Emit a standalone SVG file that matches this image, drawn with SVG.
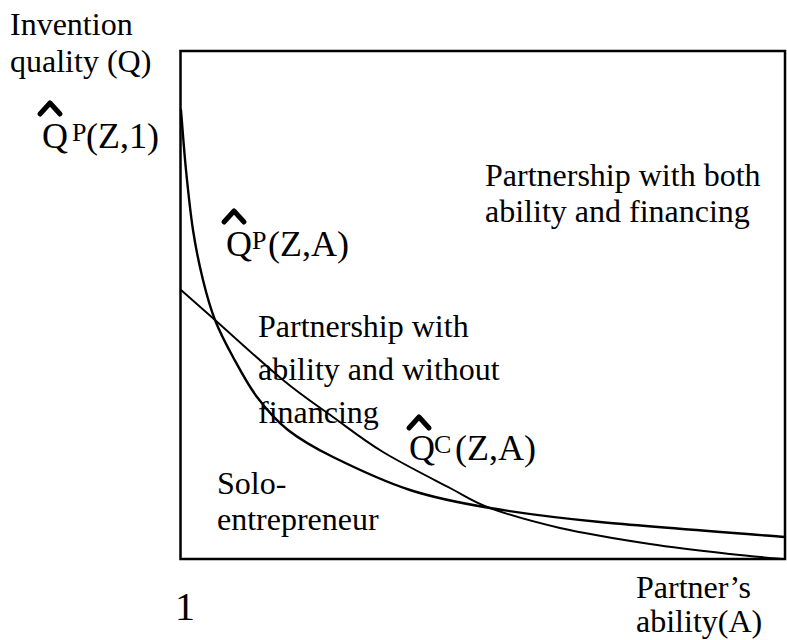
<svg xmlns="http://www.w3.org/2000/svg" width="787" height="640" viewBox="0 0 787 640">
<style>
text{font-family:"Liberation Serif","Times New Roman",serif;fill:#000;font-size:32px}
.lbl{font-size:36px}
.sup{font-size:26px}
.one{font-size:40px}
.hat{fill:none;stroke:#000;stroke-width:5;stroke-linecap:round;stroke-linejoin:round}
.curve{fill:none;stroke:#000;stroke-linecap:round}
</style>
<rect width="787" height="640" fill="#fff"/>
<g id="frame">
<rect x="180.5" y="51" width="604.5" height="508" fill="none" stroke="#000" stroke-width="2.5"/>
</g>
<g id="curves">
<path id="curve-qp" class="curve" stroke-width="2.4" d="M181,110 C181.8,120 184,150 186,170 C188,190 190.2,211.7 193,230 C195.8,248.3 199.3,265 203,280 C206.7,295 210,307.2 215,320 C220,332.8 226,344.2 233,357 C240,369.8 247.8,384.8 257,397 C266.2,409.2 275.3,420 288,430 C300.7,440 312.7,447 333,457 C353.3,467 383.8,481.5 410,490 C436.2,498.5 458.3,502.7 490,508 C521.7,513.3 550.8,517.2 600,522 C649.2,526.8 754.2,534.5 785,537"/>
<path id="curve-qc" class="curve" stroke-width="1.9" d="M181,290 C186.7,295 198,305 215,320 C232,335 263.3,363.8 283,380 C302.7,396.2 316.3,405 333,417 C349.7,429 363.5,440.2 383,452 C402.5,463.8 432.2,478.7 450,488 C467.8,497.3 471.7,501.3 490,508 C508.3,514.7 533.3,521.8 560,528 C586.7,534 621.7,539.7 650,544 C678.3,548.3 707.5,551.5 730,554 C752.5,556.5 775.8,558.2 785,559"/>
</g>
<g id="axis-y-title">
<text x="10" y="35">Invention</text>
<text x="10" y="72">quality (Q)</text>
</g>
<g id="label-qp-z1">
<polyline class="hat" points="40,114 50,103 60,114"/>
<text class="lbl" x="42" y="148">Q</text>
<text class="sup" x="72" y="141">P</text>
<text class="lbl" x="86" y="148">(Z,1)</text>
</g>
<g id="label-qp-za">
<polyline class="hat" points="224,222 234,211 244,222"/>
<text class="lbl" x="226" y="256">Q</text>
<text class="sup" x="252" y="249">P</text>
<text class="lbl" x="268" y="256">(Z,A)</text>
</g>
<g id="label-qc-za">
<polyline class="hat" points="409,428 419,417 429,428"/>
<text class="lbl" x="409" y="460">Q</text>
<text class="sup" x="434" y="453">C</text>
<text class="lbl" x="455" y="460">(Z,A)</text>
</g>
<g id="region-both">
<text x="485" y="186">Partnership with both</text>
<text x="485" y="222">ability and financing</text>
</g>
<g id="region-ability">
<text x="258" y="337">Partnership with</text>
<text x="258" y="380">ability and without</text>
<text x="258" y="423">financing</text>
</g>
<g id="region-solo">
<text x="217" y="494">Solo-</text>
<text x="217" y="530">entrepreneur</text>
</g>
<g id="axis-x">
<text class="one" x="175" y="620">1</text>
<text x="636" y="598">Partner’s</text>
<text x="636" y="632">ability(A)</text>
</g>
</svg>
